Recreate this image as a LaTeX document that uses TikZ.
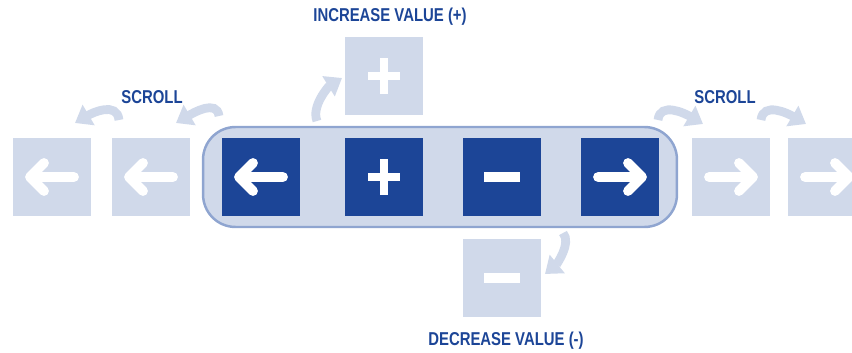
\documentclass[tikz,border=0pt]{standalone}
\usepackage{fontspec}
\newfontfamily\capfont{Liberation Sans}[FakeStretch=0.8]
\usetikzlibrary{arrows.meta,positioning}
\definecolor{keyblue}{HTML}{1C4597}
\definecolor{keypale}{HTML}{D0D9EA}
\definecolor{barline}{HTML}{8FA5D0}
\tikzset{
  key/.style={minimum size=1.56cm, inner sep=0pt, outer sep=0pt},
  livekey/.style={key, fill=keyblue},
  ghostkey/.style={key, fill=keypale},
  caption/.style={text=keyblue, inner sep=0pt, font=\capfont\bfseries\fontsize{10.6}{12}\selectfont},
  hint/.style={keypale, line width=5pt, -{Triangle[width=13pt,length=9pt]}},
  glyph/.style={white, line width=5.6pt, line cap=round, line join=round},
  bar/.style={draw=barline, fill=keypale, line width=1.4pt, rounded corners=0.65cm,
    minimum width=9.48cm, minimum height=2cm},
  larrow/.pic={\draw[glyph] (22,0) -- (-22,0) (-8,-14) -- (-22,0) -- (-8,14);},
  rarrow/.pic={\draw[glyph] (-22,0) -- (22,0) (8,-14) -- (22,0) -- (8,14);},
  plussign/.pic={\draw[white, line width=4.5pt] (-16,0) -- (16,0) (0,-18) -- (0,18);},
  minussign/.pic={\draw[white, line width=5.6pt] (-18,0) -- (18,0);}
}
\begin{document}
\begin{tikzpicture}[x=0.02cm, y=-0.02cm]
\clip (0,0) rectangle (852,352);

\node[bar] (bar) at (440,177) {};

\node[ghostkey] (gl2) at (52,177) {};
\node[ghostkey] (gl1) at (151,177) {};
\node[livekey] (kleft) at (261,177) {};
\node[livekey] (kplus) at (384,177) {};
\node[livekey] (kminus) at (502,177) {};
\node[livekey] (kright) at (620,177) {};
\node[ghostkey] (gr1) at (731,177) {};
\node[ghostkey] (gr2) at (827,177) {};
\node[ghostkey] (gplus) at (384,76) {};
\node[ghostkey] (gminus) at (502,278) {};

\pic at (gl2) {larrow};
\pic at (gl1) {larrow};
\pic at (kleft) {larrow};
\pic at (kplus) {plussign};
\pic at (kminus) {minussign};
\pic at (kright) {rarrow};
\pic at (gr1) {rarrow};
\pic at (gr2) {rarrow};
\pic at (gplus) {plussign};
\pic at (gminus) {minussign};

\node[caption] (inc) at (390,17) {INCREASE VALUE (+)};
\node[caption] (dec) at (506,341) {DECREASE VALUE (-)};
\node[caption] (scl) at (152,97) {SCROLL};
\node[caption] (scr) at (725,97) {SCROLL};

\coordinate (l1s) at (119,120);
\coordinate (l1e) at (75,123);
\coordinate (l2s) at (219,116);
\coordinate (l2e) at (176,123);
\coordinate (r1s) at (658,120);
\coordinate (r1e) at (703,124);
\coordinate (r2s) at (761,120);
\coordinate (r2e) at (806,124);
\coordinate (ups) at (317,121);
\coordinate (upe) at (342,78);
\coordinate (dns) at (563,233);
\coordinate (dne) at (545,274);

\draw[hint] (l1s) .. controls +(-2,-19) and +(17,-10) .. (l1e);
\draw[hint] (l2s) .. controls +(-2,-17) and +(17,-10) .. (l2e);
\draw[hint] (r1s) .. controls +(2,-19) and +(-17,-10) .. (r1e);
\draw[hint] (r2s) .. controls +(2,-19) and +(-17,-10) .. (r2e);
\draw[hint] (ups) .. controls +(-6,-15) and +(-13,8) .. (upe);
\draw[hint] (dns) .. controls +(9,10) and +(11,-9) .. (dne);

\end{tikzpicture}
\end{document}
